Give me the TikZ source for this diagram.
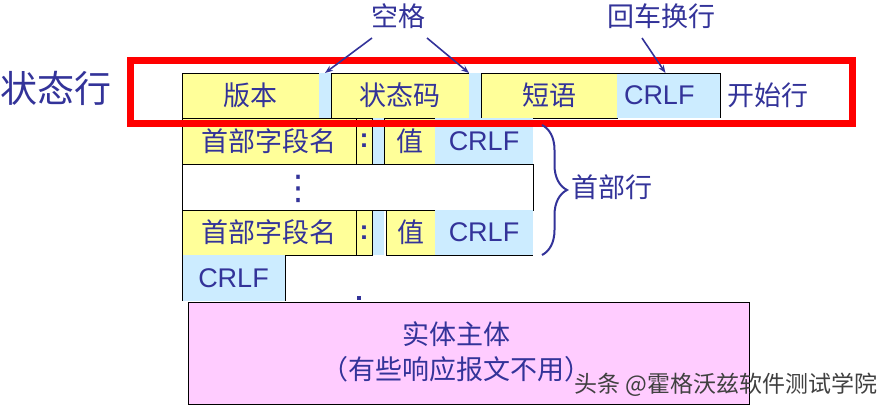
\documentclass[tikz,border=0pt]{standalone}
\usepackage{fontspec}
\setmainfont{Liberation Sans}
\newfontfamily\cjk{Noto Sans CJK SC}
\newfontfamily\dejavu{DejaVu Sans}
\usetikzlibrary{arrows.meta,decorations.pathreplacing}
\definecolor{ink}{HTML}{333399}
\definecolor{yel}{HTML}{FFFF99}
\definecolor{blu}{HTML}{CCECFF}
\definecolor{pnk}{HTML}{FFCCFF}
\tikzset{
  base/.style={inner sep=0pt, outer sep=0pt, text=ink, rectangle},
  ybox/.style={base, fill=yel, draw=black, line width=0.9pt},
  bbox/.style={base, fill=blu, draw=none},
  cj/.style={font=\cjk\fontsize{27}{30}\selectfont},
  lat/.style={font=\fontsize{27}{30}\selectfont},
  arr/.style={draw=ink, line width=1.6pt, -{Stealth[length=8pt,width=6pt]}},
  edge/.style={draw=black, line width=0.9pt},
}
\begin{document}
\begin{tikzpicture}[x=1pt,y=-1pt]
\useasboundingbox (0,0) rectangle (888,410);
% status row
\node[ybox, cj, minimum width=137pt, minimum height=45pt] (ver) at (250.5,95.5) {版本};
\node[bbox, minimum width=12pt, minimum height=45pt] (gap1) at (325,95.5) {};
\node[ybox, cj, minimum width=138pt, minimum height=45pt] (code) at (400,95.5) {状态码};
\node[bbox, minimum width=12pt, minimum height=45pt] (gap2) at (475,95.5) {};
\node[ybox, cj, minimum width=136pt, minimum height=45pt] (phr) at (549,95.5) {短语};
\node[bbox, lat, minimum height=45pt, text width=89pt, inner xsep=7pt, align=left] (crlf0) at (668.5,95.5) {CRLF};
\draw[edge] (crlf0.north west) -- (crlf0.north east) -- (crlf0.south east);
% header gap (behind rows)
\node[bbox, minimum width=12pt, minimum height=137pt] (hgap) at (378,186.5) {};
% header row 1
\node[ybox, cj, minimum width=174pt, minimum height=46pt] (name1) at (269,141) {首部字段名};
\node[ybox, minimum width=16pt, minimum height=46pt, font=\bfseries\fontsize{27}{30}\selectfont] (col1) at (364,141) {:};
\node[ybox, cj, minimum width=51pt, minimum height=46pt] (val1) at (409.5,141) {值};
\node[bbox, lat, minimum width=98pt, minimum height=46pt] (crlf1) at (484,141) {CRLF};
% row 2
\node[base, fill=white, draw=black, line width=0.9pt, minimum width=351pt, minimum height=46pt] (row2) at (357.5,187) {};
\node[base, font=\dejavu\fontsize{34}{36}\selectfont] (dots) at (298,189) {⋮};
% header row 3
\node[ybox, cj, minimum width=174pt, minimum height=45pt] (name3) at (269,232.5) {首部字段名};
\node[ybox, minimum width=16pt, minimum height=45pt, font=\bfseries\fontsize{27}{30}\selectfont] (col3) at (364,232.5) {:};
\node[ybox, cj, minimum width=49pt, minimum height=45pt] (val3) at (410.5,232.5) {值};
\node[bbox, lat, minimum width=98pt, minimum height=45pt] (crlf3) at (484,232.5) {CRLF};
\draw[edge] (crlf3.south west) -- (crlf3.south east);
% final CRLF
\node[bbox, lat, minimum width=103pt, minimum height=46pt] (crlf4) at (233.5,278) {CRLF};
\draw[edge] (crlf4.north west) -- (crlf4.south west);
\draw[edge] (crlf4.north east) -- (crlf4.south east);
\fill[ink] (357,296) rectangle (361,300);
% body
\node[base, fill=pnk, draw=black, line width=0.9pt, minimum width=561pt, minimum height=102pt] (body) at (468.5,353) {};
\node[base, cj, font=\cjk\fontsize{27}{35}\selectfont, align=center] (bodytxt) at (456,352) {实体主体\\（有些响应报文不用）};
% red frame
\node[base, draw=red, line width=7pt, minimum width=722.5pt, minimum height=63pt] (frame) at (491.25,92) {};
% labels
\node[base, font=\cjk\fontsize{37}{40}\selectfont] (zt) at (56,88) {状态行};
\node[base, cj] (kg) at (398,16) {空格};
\node[base, cj] (hc) at (661,16) {回车换行};
\node[base, cj] (ks) at (768,95) {开始行};
\node[base, cj] (sb) at (612,187) {首部行};
% arrows
\coordinate (a1) at (372,38);
\coordinate (a2) at (427,38);
\coordinate (a3) at (642,38);
\draw[arr] (a1) -- (gap1.north);
\draw[arr] (a2) -- (gap2.north west);
\draw[arr] (a3) -- ([xshift=-3pt]crlf0.north);
% brace
\draw[ink, line width=2pt, decorate, decoration={brace, amplitude=25pt}] (542,125) -- (542,255);
% watermark
\node[base, text=black!75, font=\cjk\fontsize{23}{26}\selectfont] (wm) at (726,385) {头条 @霍格沃兹软件测试学院};
\end{tikzpicture}
\end{document}
